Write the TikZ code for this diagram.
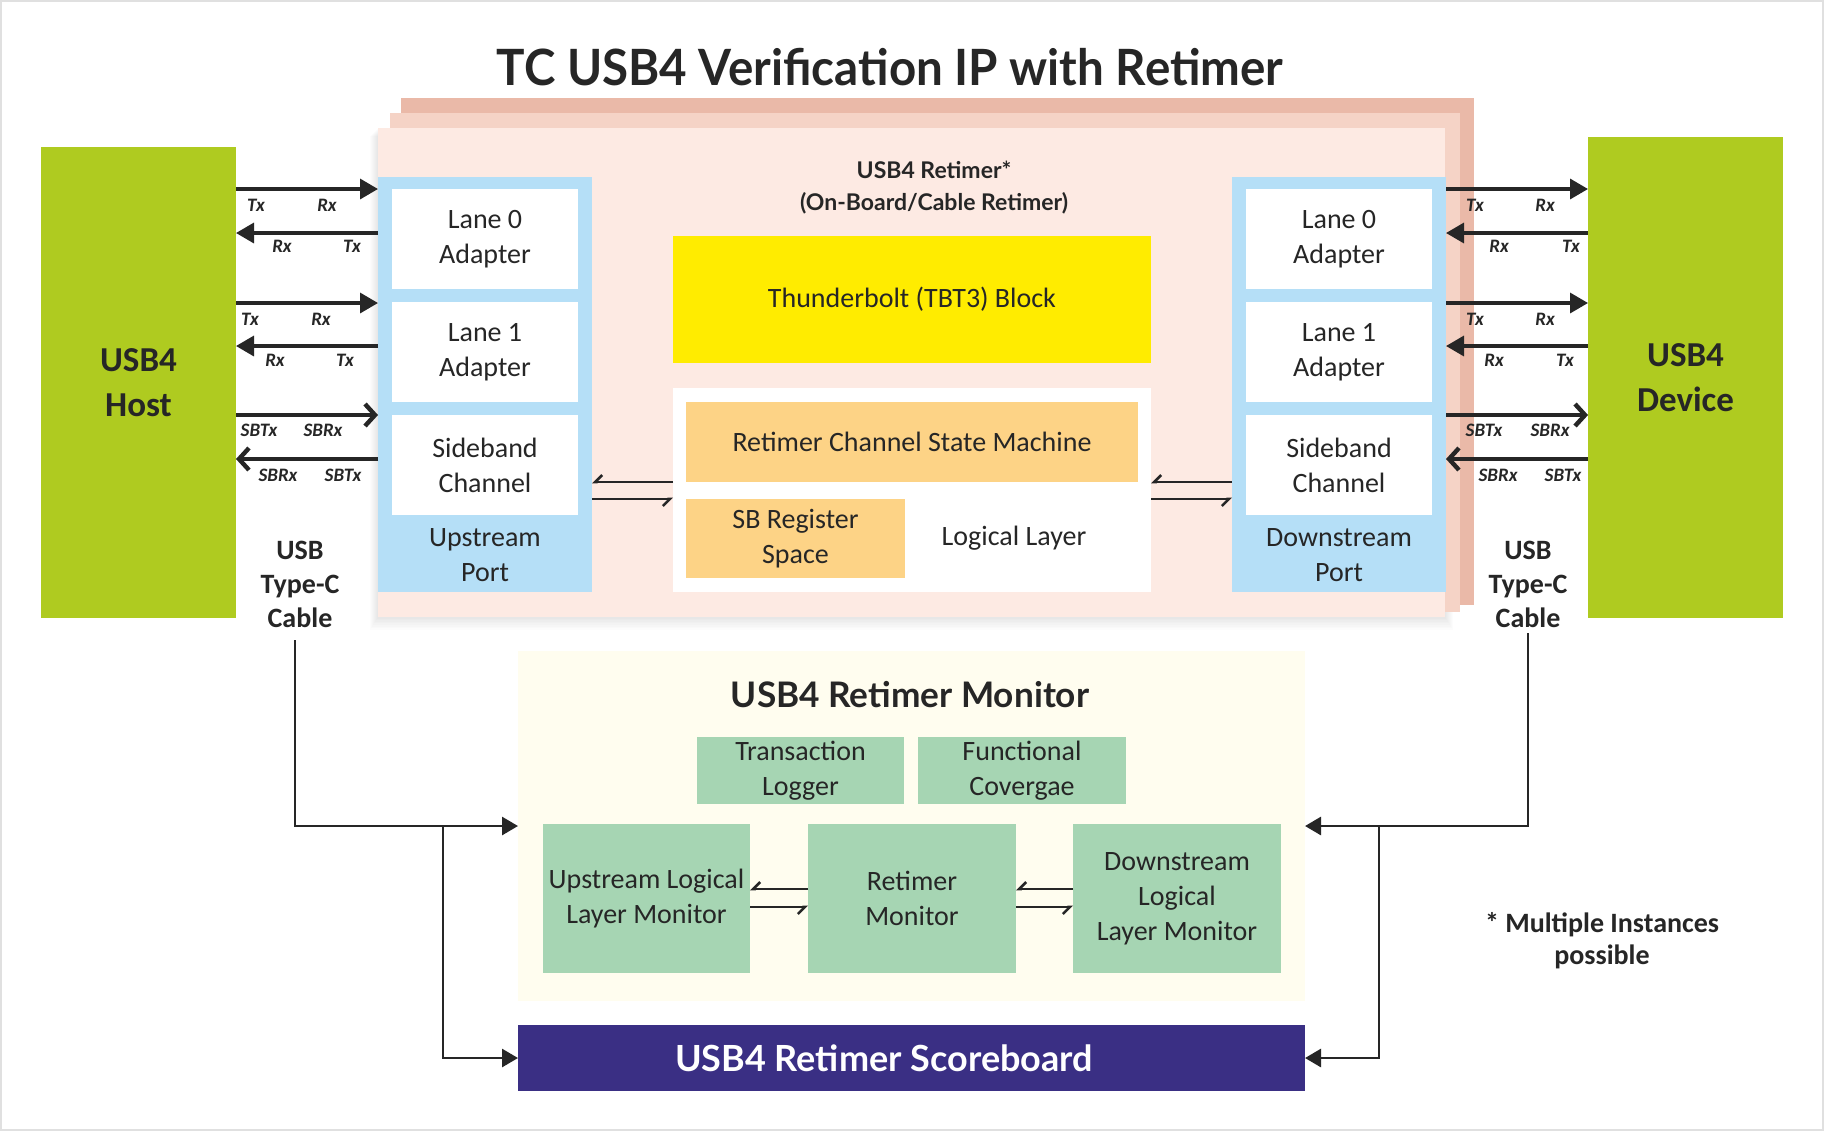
\documentclass[tikz,border=0pt]{standalone}
\usepackage{fontspec}
\setmainfont{Carlito}
\newfontfamily\headfont{Lato}
\usetikzlibrary{arrows.meta}
\definecolor{txt}{HTML}{262626}
\definecolor{hostgreen}{HTML}{AFCB20}
\definecolor{portblue}{HTML}{B5DFF7}
\definecolor{tbtyellow}{HTML}{FFEC00}
\definecolor{orangebox}{HTML}{FDD386}
\definecolor{mint}{HTML}{A6D5B3}
\definecolor{monbgc}{HTML}{FFFDEF}
\definecolor{scorec}{HTML}{3A2F84}
\definecolor{pinkfront}{HTML}{FDEAE3}
\definecolor{pinkmid}{HTML}{F5D3C6}
\definecolor{pinkback}{HTML}{EAB9A8}
\tikzset{
  base/.style={inner sep=0pt, outer sep=0pt, text=txt, align=center},
  body/.style={font=\fontsize{14}{17.5}\selectfont},
  hostbox/.style={base, fill=hostgreen, minimum width=97.5pt, font=\bfseries\fontsize{17.5}{22.5}\selectfont},
  portbox/.style={base, fill=portblue, minimum width=107pt, minimum height=207.5pt},
  whitebox/.style={base, body, fill=white, minimum width=93pt, minimum height=50pt},
  mintbox/.style={base, body, fill=mint},
  txl/.style={base, text=txt, font=\bfseries\itshape\fontsize{9.5}{10}\selectfont},
  sig/.style={draw=txt, line width=1.7pt, -{Triangle[length=9pt,width=10pt]}},
  sbsig/.style={draw=txt, line width=1.7pt, -{Straight Barb[length=5pt,width=11pt,line width=2.2pt]}},
  harp/.style={draw=txt, line width=1.3pt, -{Straight Barb[right,length=3.5pt,width=7pt]}},
  cab/.style={draw=txt, line width=1.4pt},
  caba/.style={cab, -{Triangle[length=8pt,width=9pt]}},
  boldlbl/.style={base, font=\bfseries\fontsize{14}{17}\selectfont},
}
\begin{document}
\begin{tikzpicture}[x=0.5pt,y=-0.5pt]
\useasboundingbox (0,0) rectangle (1824,1131);
\fill[white] (0,0) rectangle (1824,1131);
\draw[black!12, line width=1.2pt] (1,1) rectangle (1823,1130);

% title
\node[base, anchor=base, font=\headfont\bfseries\fontsize{25}{30}\selectfont] (title) at (890,85) {\scalebox{0.95}[1]{TC USB4 Verification IP with Retimer}};

% retimer stack with soft shadow
\foreach \i in {1,...,8} {
  \fill[black, opacity=0.012] (378-\i,128+\i) rectangle (1445+\i,617+1.6*\i);
}
\fill[pinkback] (401,98) rectangle (1474,605);
\fill[pinkmid] (390,113) rectangle (1460,612);
\node[base, fill=pinkfront, minimum width=533.5pt, minimum height=244.5pt] (retimer) at (911.5,372.5) {};
\node[base, font=\headfont\bfseries\fontsize{11.5}{16}\selectfont] (rtitle) at (934,188) {USB4 Retimer*\\(On-Board/Cable Retimer)};

% host and device
\node[hostbox, minimum height=235.5pt] (host) at (138.5,382.5) {USB4\\Host};
\node[hostbox, minimum height=240.5pt] (device) at (1685.5,377.5) {USB4\\Device};

% ports
\node[portbox] (upport) at (485,384.5) {};
\node[portbox] (dnport) at (1339,384.5) {};
\node[whitebox] (ul0) at (485,239) {Lane 0\\Adapter};
\node[whitebox] (ul1) at (485,352) {Lane 1\\Adapter};
\node[whitebox] (usb) at (485,465) {Sideband\\Channel};
\node[base, body] (uptext) at (485,555) {Upstream\\Port};
\node[whitebox] (dl0) at (1339,239) {Lane 0\\Adapter};
\node[whitebox] (dl1) at (1339,352) {Lane 1\\Adapter};
\node[whitebox] (dsb) at (1339,465) {Sideband\\Channel};
\node[base, body] (dntext) at (1339,555) {Downstream\\Port};

% center blocks
\node[base, body, fill=tbtyellow, minimum width=239pt, minimum height=63.5pt] (tbt) at (912,299.5) {Thunderbolt (TBT3) Block};
\node[base, fill=white, minimum width=239pt, minimum height=102pt] (logic) at (912,490) {};
\node[base, body, fill=orangebox, minimum width=226pt, minimum height=40pt] (rcsm) at (912,442) {Retimer Channel State Machine};
\node[base, body, fill=orangebox, minimum width=109.5pt, minimum height=39.5pt] (sbreg) at (795.5,538.5) {SB Register\\Space};
\node[base, body] (ll) at (1014,538) {Logical Layer};

% harpoons port <-> logical layer
\draw[harp] (logic.west |- 0,482) -- (upport.east |- 0,482);
\draw[harp] (upport.east |- 0,499) -- (logic.west |- 0,499);
\draw[harp] (dnport.west |- 0,482) -- (logic.east |- 0,482);
\draw[harp] (logic.east |- 0,499) -- (dnport.west |- 0,499);

% host side signals
\draw[sig] (host.east |- 0,189) -- (upport.west |- 0,189);
\draw[sig] (upport.west |- 0,233) -- (host.east |- 0,233);
\draw[sig] (host.east |- 0,303) -- (upport.west |- 0,303);
\draw[sig] (upport.west |- 0,346) -- (host.east |- 0,346);
\draw[sbsig] (host.east |- 0,415) -- (upport.west |- 0,415);
\draw[sbsig] (upport.west |- 0,459) -- (host.east |- 0,459);
\node[txl] (ht1) at (256,205) {Tx};
\node[txl] (hr1) at (327,205) {Rx};
\node[txl] (hr2) at (282,246) {Rx};
\node[txl] (ht2) at (352,246) {Tx};
\node[txl] (ht3) at (250,319) {Tx};
\node[txl] (hr3) at (321,319) {Rx};
\node[txl] (hr4) at (275,360) {Rx};
\node[txl] (ht4) at (345,360) {Tx};
\node[txl] (ht5) at (259,430) {SBTx};
\node[txl] (hr5) at (323,430) {SBRx};
\node[txl] (hr6) at (278,475) {SBRx};
\node[txl] (ht6) at (343,475) {SBTx};

% device side signals
\draw[sig] (dnport.east |- 0,189) -- (device.west |- 0,189);
\draw[sig] (device.west |- 0,233) -- (dnport.east |- 0,233);
\draw[sig] (dnport.east |- 0,303) -- (device.west |- 0,303);
\draw[sig] (device.west |- 0,346) -- (dnport.east |- 0,346);
\draw[sbsig] (dnport.east |- 0,415) -- (device.west |- 0,415);
\draw[sbsig] (device.west |- 0,459) -- (dnport.east |- 0,459);
\node[txl] (dt1) at (1475,205) {Tx};
\node[txl] (dr1) at (1545,205) {Rx};
\node[txl] (dr2) at (1499,246) {Rx};
\node[txl] (dt2) at (1571,246) {Tx};
\node[txl] (dt3) at (1475,319) {Tx};
\node[txl] (dr3) at (1545,319) {Rx};
\node[txl] (dr4) at (1494,360) {Rx};
\node[txl] (dt4) at (1565,360) {Tx};
\node[txl] (dt5) at (1484,430) {SBTx};
\node[txl] (dr5) at (1550,430) {SBRx};
\node[txl] (dr6) at (1498,475) {SBRx};
\node[txl] (dt6) at (1563,475) {SBTx};

% cable labels
\node[boldlbl, inner sep=3pt] (cableL) at (300,584) {USB\\Type-C\\Cable};
\node[boldlbl, inner sep=3pt] (cableR) at (1528,584) {USB\\Type-C\\Cable};

% monitor
\node[base, fill=monbgc, minimum width=393.5pt, minimum height=175pt] (monbg) at (911.5,826) {};
\node[base, font=\headfont\bfseries\fontsize{17.6}{20}\selectfont] (montitle) at (910,695) {USB4 Retimer Monitor};
\node[mintbox, minimum width=103.5pt, minimum height=33.5pt] (tlog) at (800.5,770.5) {Transaction\\Logger};
\node[mintbox, minimum width=104pt, minimum height=33.5pt] (fcov) at (1022,770.5) {Functional\\Covergae};
\node[mintbox, minimum width=103.5pt, minimum height=74.5pt] (ullm) at (646.5,898.5) {Upstream Logical\\Layer Monitor};
\node[mintbox, minimum width=104pt, minimum height=74.5pt] (rmon) at (912,898.5) {Retimer\\Monitor};
\node[mintbox, minimum width=104pt, minimum height=74.5pt] (dllm) at (1177,898.5) {Downstream\\Logical\\Layer Monitor};
\draw[harp] (rmon.west |- 0,889) -- (ullm.east |- 0,889);
\draw[harp] (ullm.east |- 0,907) -- (rmon.west |- 0,907);
\draw[harp] (dllm.west |- 0,889) -- (rmon.east |- 0,889);
\draw[harp] (rmon.east |- 0,907) -- (dllm.west |- 0,907);

% scoreboard
\node[base, fill=scorec, minimum width=393.5pt, minimum height=33pt] (score) at (911.5,1058) {};
\node[base, text=white, font=\headfont\bfseries\fontsize{18}{20}\selectfont] (scoretext) at (884,1058) {USB4 Retimer Scoreboard};

% cable connectors
\coordinate (cL) at (295,640);
\coordinate (jL) at (443,826);
\coordinate (jR) at (1379,826);
\draw[caba] (cL) |- (monbg.west);
\draw[caba] (jL) |- (score.west);
\draw[caba] (cableR.south) |- (monbg.east);
\draw[caba] (jR) |- (score.east);

% note
\node[boldlbl, font=\bfseries\fontsize{14}{16}\selectfont] (note) at (1602,941) {* Multiple Instances\\possible};
\end{tikzpicture}
\end{document}
